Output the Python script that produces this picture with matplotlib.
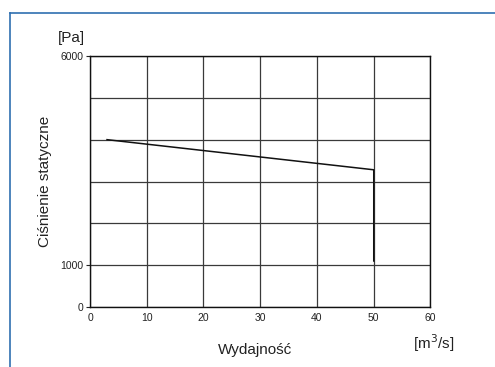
import matplotlib.pyplot as plt
from matplotlib.lines import Line2D

plt.rcParams['font.family'] = ['Liberation Sans', 'DejaVu Sans']

# fan curve: flow [m3/s] vs static pressure [Pa]
flow = [3, 50, 50]
pressure = [4000, 3280, 1100]

x_grid = [0, 10, 20, 30, 40, 50, 60]
y_grid = [0, 1000, 2000, 3000, 4000, 5000, 6000]
y_labels = {0: '0', 1000: '1000', 6000: '6000'}

fig = plt.figure(figsize=(4.95, 3.67), dpi=100)
ax = fig.add_axes([90 / 495, 1 - 307 / 367, 340.5 / 495, 251 / 367])

for gx in x_grid:
    ax.axvline(gx, color='#3a3a3a', lw=0.9, zorder=1)
for gy in y_grid:
    ax.axhline(gy, color='#3a3a3a', lw=0.9, zorder=1)

ax.plot(flow, pressure, color='#111111', lw=1.1, zorder=3)

ax.set_xlim(0, 60)
ax.set_ylim(0, 6000)
ax.set_xticks(x_grid)
ax.set_xticklabels([str(v) for v in x_grid])
ax.set_yticks(list(y_labels.keys()))
ax.set_yticklabels(list(y_labels.values()))
ax.tick_params(axis='x', length=0, pad=4, labelsize=7.5, colors='#222222')
ax.tick_params(axis='y', length=3, width=0.8, pad=1.5, labelsize=7.5,
               colors='#222222')
for s in ax.spines.values():
    s.set_color('#111111')
    s.set_linewidth(1.0)

fig.text(58 / 495, 1 - 38 / 367, '[Pa]', fontsize=11, color='#222222',
         ha='left', va='center')
fig.text(45 / 495, 1 - 181 / 367, 'Ciśnienie statyczne', fontsize=11,
         color='#222222', rotation=90, ha='center', va='center')
fig.text(255 / 495, 1 - 350 / 367, 'Wydajność', fontsize=11,
         color='#222222', ha='center', va='center')
fig.text(413 / 495, 1 - 343 / 367, '[m$^3$/s]', fontsize=11,
         color='#222222', ha='left', va='center')

# blue frame around the chart block
blue = '#2f6fb0'
fig.add_artist(Line2D([10 / 495, 1], [1 - 12.5 / 367] * 2, color=blue,
                      lw=1.2, transform=fig.transFigure))
fig.add_artist(Line2D([10 / 495] * 2, [0, 1 - 12.5 / 367], color=blue,
                      lw=1.2, transform=fig.transFigure))

fig.savefig('out.png', dpi=100)
